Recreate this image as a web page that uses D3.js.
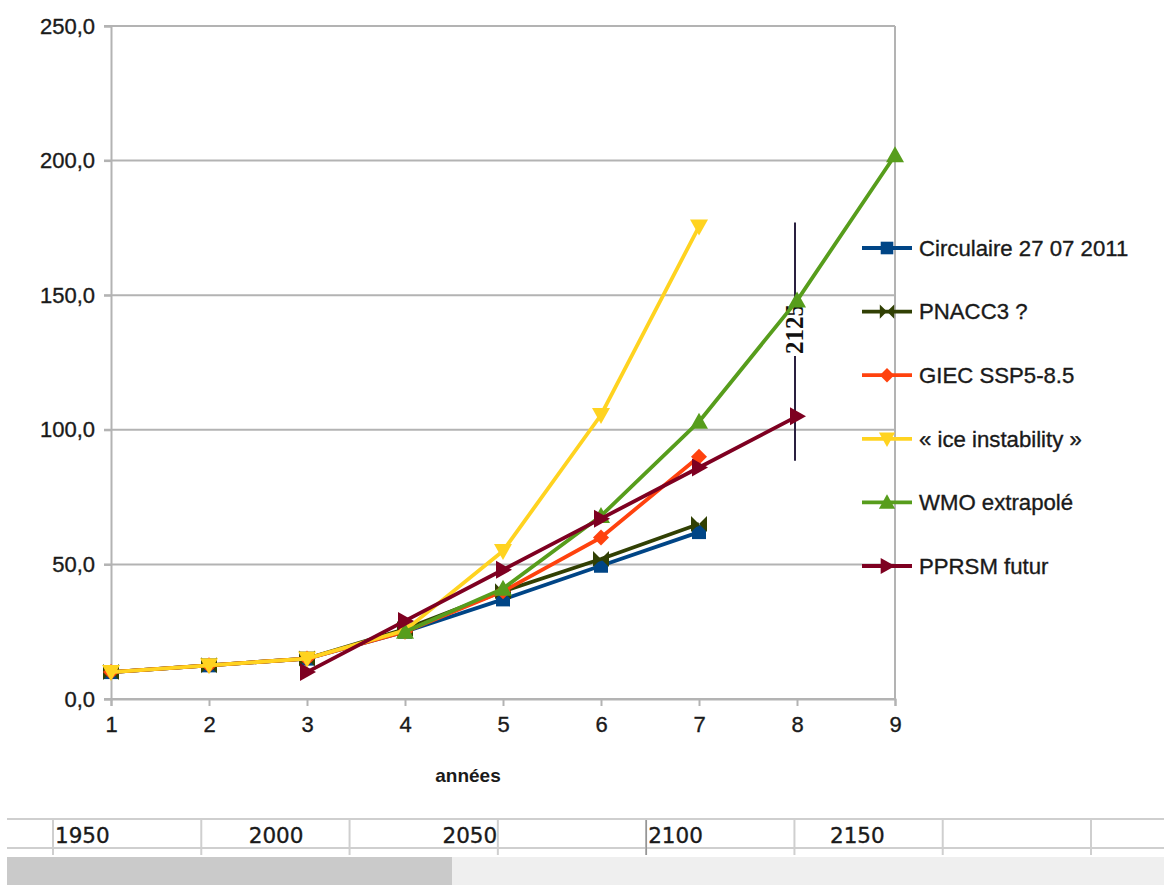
<!DOCTYPE html>
<html>
<head>
<meta charset="utf-8">
<script src="https://cdn.jsdelivr.net/npm/d3@7"></script>
<style>
html,body{margin:0;padding:0;background:#fff;}
svg{display:block;font-family:"Liberation Sans",Arial,sans-serif;}
</style>
</head>
<body>
<svg id="chart" width="1164" height="885"></svg>
<script>
// ---------- data ----------
const categories = [1, 2, 3, 4, 5, 6, 7, 8, 9];
const seriesNames = ["Circulaire 27 07 2011", "PNACC3 ?", "GIEC SSP5-8.5", "« ice instability »", "WMO extrapolé", "PPRSM futur"];
const circulaire = [10, 12.5, 15, 25, 37, 49.5, 62, null, null];
const pnacc3     = [10, 12.5, 15, 26, 40, 52, 65, null, null];
const giec       = [10, 12.5, 15, 25, 40, 60, 90, null, null];
const iceInstab  = [10, 12.5, 15, 25.5, 55, 105.5, 175.5, null, null];
const wmo        = [null, null, null, 25, 41, 68, 103, 148, 202];
const pprsm      = [null, null, 10, 29, 48, 67, 86, 105, null];
const yTicks = [0, 50, 100, 150, 200, 250];
const xAxisTitle = "années";
const rulerYears = [1950, 2000, 2050, 2100, 2150];
const markerLabel = "2125";
const markerX = 8;
const markerRange = [88.5, 177];

const seriesValues = [circulaire, pnacc3, giec, iceInstab, wmo, pprsm];

// ---------- styles ----------
const colors = ["#004586", "#314004", "#ff420e", "#ffd320", "#579d1c", "#7e0021"];
const shapes = {
  square:   "M-7,-7H7V7H-7Z",
  bowtie:   "M-8,-8L0,0L-8,8ZM8,-8L0,0L8,8Z",
  diamond:  "M0,-8L8,0L0,8L-8,0Z",
  down:     "M-9,-7L9,-7L0,9Z",
  up:       "M-9,7L9,7L0,-9Z",
  right:    "M-7,-9L-7,9L9,0Z"
};
const shapeOf = ["square", "bowtie", "diamond", "down", "up", "right"];

const svg = d3.select("#chart");
const x = d3.scaleLinear().domain([1, 9]).range([111, 895]);
const y = d3.scaleLinear().domain([0, 250]).range([699, 26]);
const grid = "#b3b3b3";
const fontSize = 22;
const ink = "#1a1a1a";

function heavy(sel) { return sel.attr("fill", ink).attr("stroke", ink).attr("stroke-width", 0.35); }

// gridlines
svg.append("g").selectAll("line").data(yTicks).join("line")
  .attr("x1", 104).attr("x2", 895)
  .attr("y1", d => y(d)).attr("y2", d => y(d))
  .attr("stroke", grid).attr("stroke-width", 2);

// right border
svg.append("line").attr("x1", x(9)).attr("x2", x(9)).attr("y1", y(250)).attr("y2", y(0))
  .attr("stroke", grid).attr("stroke-width", 2);

// y axis
const yAxis = svg.append("g").attr("transform", `translate(${x(1)},0)`)
  .call(d3.axisLeft(y).tickValues(yTicks).tickSize(7).tickPadding(9)
    .tickFormat(d => d3.format(".1f")(d).replace(".", ",")));
yAxis.select(".domain").attr("stroke", grid).attr("stroke-width", 2);
yAxis.selectAll(".tick line").attr("stroke", grid).attr("stroke-width", 2);
heavy(yAxis.selectAll("text").attr("font-size", fontSize).attr("font-family", "Liberation Sans"));

// x axis
const xAxis = svg.append("g").attr("transform", `translate(0,${y(0)})`)
  .call(d3.axisBottom(x).tickValues(categories).tickSize(7).tickPadding(10).tickFormat(d3.format("d")));
xAxis.select(".domain").attr("stroke", grid).attr("stroke-width", 2);
xAxis.selectAll(".tick line").attr("stroke", grid).attr("stroke-width", 2);
heavy(xAxis.selectAll("text").attr("font-size", fontSize).attr("font-family", "Liberation Sans"));

// axis title
svg.append("text").attr("x", 468).attr("y", 782).attr("text-anchor", "middle")
  .attr("font-size", 19).attr("font-weight", "bold").attr("fill", ink).text(xAxisTitle);

// 2125 annotation
svg.append("line").attr("x1", x(markerX) - 2).attr("x2", x(markerX) - 2)
  .attr("y1", y(markerRange[1])).attr("y2", y(markerRange[0]))
  .attr("stroke", "#2a2040").attr("stroke-width", 2);
const annY = 329;
svg.append("rect").attr("x", x(markerX) - 14).attr("y", annY - 27).attr("width", 22).attr("height", 54)
  .attr("fill", "#fff");
svg.append("text").attr("transform", `translate(${x(markerX) + 6},${annY}) rotate(-90)`)
  .attr("text-anchor", "middle").attr("font-family", "Liberation Serif").attr("font-size", 25)
  .attr("font-weight", "bold").attr("fill", "#111").text(markerLabel);

// series
const line = d3.line().defined(d => d.v != null).x(d => x(d.c)).y(d => y(d.v));
seriesValues.forEach((vals, i) => {
  const pts = categories.map((c, k) => ({c, v: vals[k]}));
  const g = svg.append("g");
  g.append("path").datum(pts).attr("d", line).attr("fill", "none")
    .attr("stroke", colors[i]).attr("stroke-width", 3.8).attr("stroke-linejoin", "round");
  g.selectAll("path.m").data(pts.filter(p => p.v != null)).join("path").attr("class", "m")
    .attr("d", shapes[shapeOf[i]])
    .attr("transform", p => `translate(${x(p.c)},${y(p.v)})`)
    .attr("fill", colors[i]);
});

// legend
const legY = d3.scalePoint().domain(seriesNames).range([248, 566]);
const leg = svg.append("g");
seriesNames.forEach((n, i) => {
  const yy = legY(n);
  leg.append("line").attr("x1", 862).attr("x2", 912).attr("y1", yy).attr("y2", yy)
    .attr("stroke", colors[i]).attr("stroke-width", 3.8);
  leg.append("path").attr("d", shapes[shapeOf[i]]).attr("transform", `translate(887,${yy}) scale(0.9)`)
    .attr("fill", colors[i]);
  heavy(leg.append("text").attr("x", 919).attr("y", yy).attr("dy", "0.35em")
    .attr("font-size", 22.2).text(n));
});

// bottom ruler
const rulerLine = "#cfcfcf";
svg.append("line").attr("x1", 7).attr("x2", 1164).attr("y1", 819).attr("y2", 819)
  .attr("stroke", rulerLine).attr("stroke-width", 2);
svg.append("line").attr("x1", 7).attr("x2", 1164).attr("y1", 848).attr("y2", 848)
  .attr("stroke", rulerLine).attr("stroke-width", 2);
const sepX = d3.scaleLinear().domain([0, 7]).range([53, 1091]);
svg.append("g").selectAll("line").data(d3.range(8)).join("line")
  .attr("x1", d => sepX(d)).attr("x2", d => sepX(d)).attr("y1", 820).attr("y2", 855)
  .attr("stroke", rulerLine).attr("stroke-width", 2);
svg.append("line").attr("x1", sepX(4)).attr("x2", sepX(4)).attr("y1", 820).attr("y2", 855)
  .attr("stroke", "#777").attr("stroke-width", 1);
const yearX = d3.scaleLinear().domain([1950, 2150]).range([55, 830]);
heavy(svg.append("g").selectAll("text").data(rulerYears).join("text")
  .attr("x", d => d === 2100 ? sepX(4) + 2 : yearX(d)).attr("y", 843)
  .attr("font-family", "DejaVu Sans").attr("font-size", 21.5).text(d => d));

// scrollbar
svg.append("rect").attr("x", 7).attr("y", 857).attr("width", 1157).attr("height", 28).attr("fill", "#efefef");
svg.append("rect").attr("x", 7).attr("y", 857).attr("width", 445).attr("height", 28).attr("fill", "#cacaca");
</script>
</body>
</html>
